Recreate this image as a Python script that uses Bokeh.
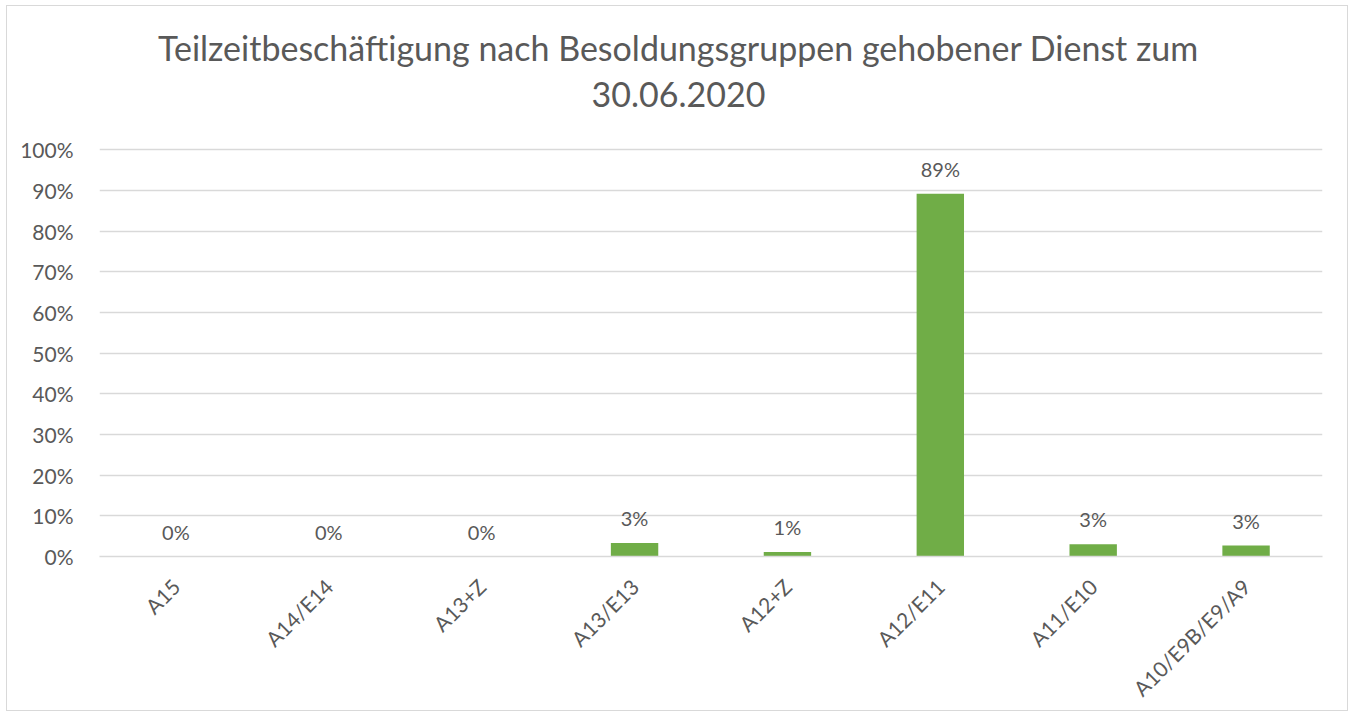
from bokeh.plotting import figure
from bokeh.models import ColumnDataSource, LabelSet, Label, NumeralTickFormatter, FixedTicker, Range1d
from bokeh.core.properties import value
from bokeh.embed import file_html
from bokeh.resources import INLINE
import math

categories = ["A15", "A14/E14", "A13+Z", "A13/E13", "A12+Z", "A12/E11", "A11/E10", "A10/E9B/E9/A9"]
shares = [0.0, 0.0, 0.0, 0.033, 0.011, 0.892, 0.030, 0.027]
share_labels = ["0%", "0%", "0%", "3%", "1%", "89%", "3%", "3%"]
y_ticks = [0.0, 0.1, 0.2, 0.3, 0.4, 0.5, 0.6, 0.7, 0.8, 0.9, 1.0]
title_lines = ["Teilzeitbeschäftigung nach Besoldungsgruppen gehobener Dienst zum", "30.06.2020"]

FONT = "Lato"
TXT = "#595959"

src = ColumnDataSource(dict(cat=categories, val=shares, lab=share_labels))

# the frame is extended upward (above 100%) so the title can sit inside it
p = figure(x_range=categories, y_range=Range1d(0, 1.343), width=1342, height=706,
           output_backend="svg", toolbar_location=None,
           min_border_left=92, min_border_right=27, min_border_top=4, min_border_bottom=10)
p.styles = {"border": "1px solid #d9d9d9", "margin-left": "6px", "margin-top": "5px"}
p.outline_line_color = None
p.background_fill_color = "white"
p.border_fill_color = "white"

p.vbar(x="cat", top="val", width=0.31, source=src, fill_color="#70AD47", line_color=None)

p.add_layout(LabelSet(x="cat", y="val", text="lab", source=src, text_align="center",
                      text_baseline="middle", y_offset=25, text_font=value(FONT),
                      text_font_size="20px", text_color=TXT))

p.yaxis.ticker = FixedTicker(ticks=y_ticks)
p.yaxis.formatter = NumeralTickFormatter(format="0%")
p.yaxis.axis_line_color = None
p.yaxis.major_tick_line_color = None
p.yaxis.minor_tick_line_color = None
p.yaxis.major_label_standoff = 20
p.yaxis.major_label_text_font = FONT
p.yaxis.major_label_text_font_size = "21px"
p.yaxis.major_label_text_color = TXT

p.xaxis.axis_line_color = "#d9d9d9"
p.xaxis.axis_line_width = 1.5
p.xaxis.major_tick_line_color = None
p.xaxis.minor_tick_line_color = None
p.xaxis.major_label_orientation = math.pi / 4
p.xaxis.major_label_standoff = 20
p.xaxis.major_label_text_font = FONT
p.xaxis.major_label_text_font_size = "21px"
p.xaxis.major_label_text_color = TXT

p.xgrid.grid_line_color = None
p.ygrid.grid_line_color = "#d9d9d9"
p.ygrid.grid_line_width = 1.5

# screen units are relative to the plot frame (y upward from frame bottom)
for line, ypos in zip(title_lines, [509, 462]):
    p.add_layout(Label(x=579, y=ypos, x_units="screen", y_units="screen", text=line,
                       text_align="center", text_baseline="middle", text_font=FONT,
                       text_font_size="34px", text_color=TXT))

open("out.html", "w").write(file_html(p, INLINE))
